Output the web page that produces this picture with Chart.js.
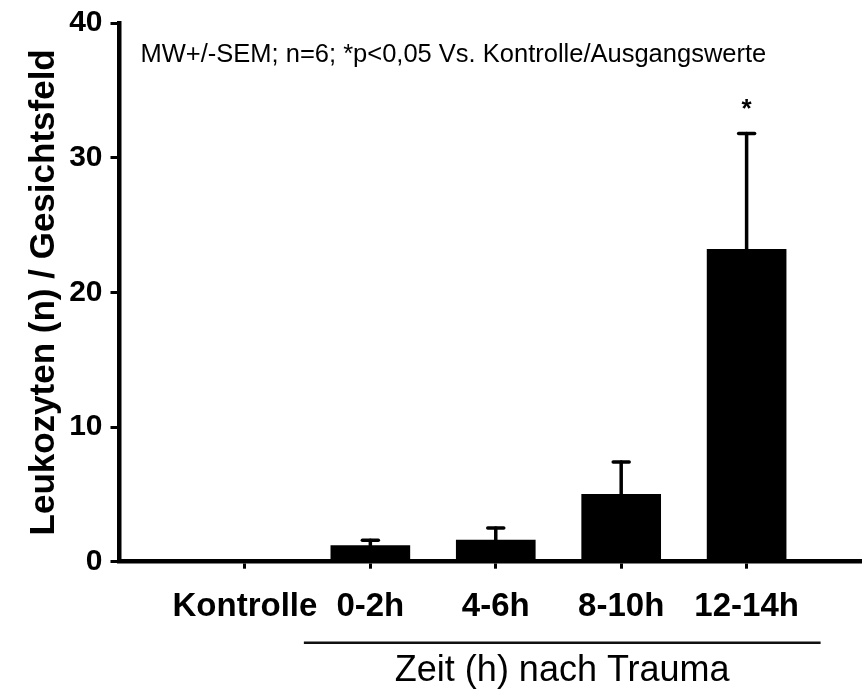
<!DOCTYPE html>
<html>
<head>
<meta charset="utf-8">
<script src="https://cdn.jsdelivr.net/npm/chart.js@4/dist/chart.umd.min.js"></script>
<style>
  html, body { margin: 0; padding: 0; background: #ffffff; }
  #wrap { width: 862px; height: 689px; position: relative; }
</style>
</head>
<body>
<div id="wrap"><canvas id="c"></canvas></div>
<script>
// ---- data ----
const categories = ['Kontrolle', '0-2h', '4-6h', '8-10h', '12-14h'];
const means = [0, 1.2, 1.6, 5.0, 23.2];
const sem = [0, 0.4, 0.9, 2.4, 8.6];
const significance = ['', '', '', '', '*'];
const yTickValues = [0, 10, 20, 30, 40];
const yTitle = 'Leukozyten (n) / Gesichtsfeld';
const xTitle = 'Zeit (h) nach Trauma';
const note = 'MW+/-SEM; n=6; *p<0,05 Vs. Kontrolle/Ausgangswerte';

const FONT = '"Liberation Sans", Arial, Helvetica, sans-serif';

const extras = {
  id: 'extras',
  afterDatasetsDraw(chart) {
    const ctx = chart.ctx;
    const xs = chart.scales.x, ys = chart.scales.y;
    const area = chart.chartArea;
    ctx.save();
    ctx.strokeStyle = '#000';
    ctx.fillStyle = '#000';
    ctx.lineCap = 'round';
    ctx.lineWidth = 3.5;
    categories.forEach((c, i) => {
      const px = xs.getPixelForValue(i + 1);
      const yTop = ys.getPixelForValue(means[i] + sem[i]);
      const yMean = ys.getPixelForValue(means[i]);
      if (sem[i] > 0) {
        ctx.beginPath();
        ctx.moveTo(px, yMean);
        ctx.lineTo(px, yTop);
        ctx.stroke();
        ctx.beginPath();
        ctx.moveTo(px - 8, yTop);
        ctx.lineTo(px + 8, yTop);
        ctx.stroke();
      }
      if (significance[i]) {
        ctx.font = 'bold 26px ' + FONT;
        ctx.textAlign = 'center';
        ctx.textBaseline = 'alphabetic';
        ctx.fillText(significance[i], px, yTop - 16);
      }
    });
    ctx.font = '25.5px ' + FONT;
    ctx.textAlign = 'left';
    ctx.textBaseline = 'alphabetic';
    ctx.fillText(note, area.left + 21, area.top + 39);
    ctx.restore();
  },
  afterDraw(chart) {
    const ctx = chart.ctx;
    const xs = chart.scales.x;
    const area = chart.chartArea;
    const x1 = xs.getPixelForValue(1.47);
    const x2 = xs.getPixelForValue(5.59);
    ctx.save();
    ctx.strokeStyle = '#111';
    ctx.lineWidth = 2.5;
    ctx.beginPath();
    ctx.moveTo(x1, area.bottom + 81);
    ctx.lineTo(x2, area.bottom + 81);
    ctx.stroke();
    ctx.fillStyle = '#000';
    ctx.font = '36px ' + FONT;
    ctx.textAlign = 'center';
    ctx.textBaseline = 'alphabetic';
    ctx.fillText(xTitle, (x1 + x2) / 2, area.bottom + 119);
    ctx.restore();
  }
};

new Chart(document.getElementById('c'), {
  type: 'bar',
  data: {
    datasets: [{
      data: categories.map((c, i) => ({ x: i + 1, y: means[i] })),
      backgroundColor: '#000000',
      borderWidth: 0,
      barThickness: 79
    }]
  },
  options: {
    responsive: true,
    maintainAspectRatio: false,
    animation: false,
    layout: { padding: { top: 13, right: 0, left: 0, bottom: 0 } },
    plugins: { legend: { display: false }, tooltip: { enabled: false }, title: { display: false } },
    scales: {
      x: {
        type: 'linear',
        min: 0,
        max: 5.92,
        offset: false,
        afterBuildTicks: (s) => { s.ticks = categories.map((c, i) => ({ value: i + 1 })); },
        afterFit: (s) => { s.height = 127.3; },
        ticks: {
          autoSkip: false,
          maxRotation: 0,
          minRotation: 0,
          padding: 22,
          color: '#000',
          font: { family: FONT, size: 33, weight: 'bold', lineHeight: 1 },
          callback: (v) => categories[Math.round(v) - 1] || ''
        },
        grid: {
          drawOnChartArea: false,
          drawTicks: true,
          tickLength: 7,
          tickWidth: 3,
          tickColor: '#000',
          offset: false
        },
        border: { display: true, color: '#000', width: 4.5 }
      },
      y: {
        min: 0,
        max: 40,
        afterBuildTicks: (s) => { s.ticks = yTickValues.map(v => ({ value: v })); },
        afterFit: (s) => { s.width = 119.5; },
        ticks: {
          padding: 8,
          color: '#000',
          font: { family: FONT, size: 30, weight: 'bold', lineHeight: 1 }
        },
        grid: {
          drawOnChartArea: false,
          drawTicks: true,
          tickLength: 9,
          tickWidth: 3,
          tickColor: '#000'
        },
        border: { display: true, color: '#000', width: 4.5 },
        title: {
          display: true,
          text: yTitle,
          color: '#000',
          font: { family: FONT, size: 35, weight: 'bold', lineHeight: 1 },
          padding: { top: 27, bottom: 0 }
        }
      }
    }
  },
  plugins: [extras]
});
</script>
</body>
</html>
